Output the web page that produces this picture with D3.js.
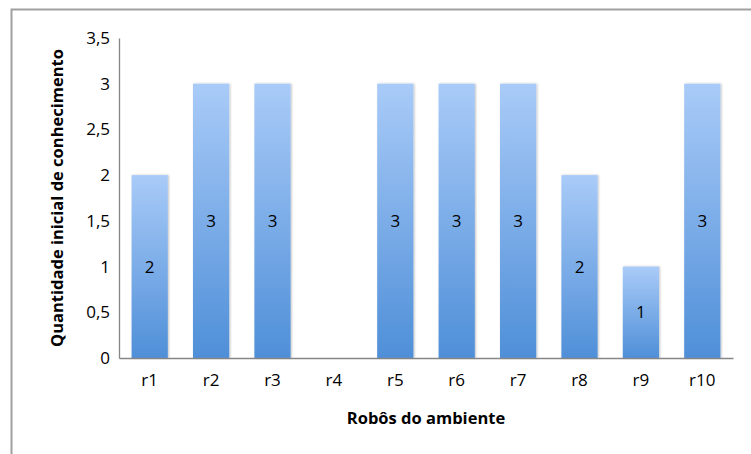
<!DOCTYPE html>
<meta charset="utf-8">
<style>
    body { margin: 0; background: #fff; }
    text { font-family: "Open Sans", "Liberation Sans", sans-serif; fill: #000; }
    .tick text { font-size: 17px; }
    .axis-title { font-size: 16.5px; font-weight: bold; }
    .bar-label { font-size: 17px; }
</style>
<svg width="751" height="454"></svg>
<script src="https://cdn.jsdelivr.net/npm/d3@7"></script>
<script>

    var robots = ["r1", "r2", "r3", "r4", "r5", "r6", "r7", "r8", "r9", "r10"];
    var knowledge = [2, 3, 3, 0, 3, 3, 3, 2, 1, 3];
    var yTicks = [0, 0.5, 1, 1.5, 2, 2.5, 3, 3.5];

    var svg = d3.select("svg");

    // frame of the chart area (only top/left visible in the crop)
    svg.append("rect")
        .attr("x", 11.5).attr("y", 9.5)
        .attr("width", 800).attr("height", 500)
        .attr("fill", "none")
        .attr("stroke", "#a0a0a0")
        .attr("stroke-width", 2);

    var plotLeft = 119, plotRight = 733, plotTop = 38, plotBottom = 358;

    var x = d3.scaleBand().domain(robots).range([plotLeft, plotRight]).paddingInner(0.41).paddingOuter(0.205);
    var y = d3.scaleLinear().domain([0, 3.5]).range([plotBottom, plotTop]);

    var defs = svg.append("defs");
    var grad = defs.append("linearGradient")
        .attr("id", "barGrad")
        .attr("x1", 0).attr("y1", 0).attr("x2", 0).attr("y2", 1);
    grad.append("stop").attr("offset", "0%").attr("stop-color", "#a9cbf8");
    grad.append("stop").attr("offset", "100%").attr("stop-color", "#4f8fd8");

    var shadow = defs.append("filter").attr("id", "shadow")
        .attr("x", "-20%").attr("y", "-5%").attr("width", "140%").attr("height", "110%");
    shadow.append("feDropShadow")
        .attr("dx", 1).attr("dy", 0).attr("stdDeviation", 1.2)
        .attr("flood-color", "#000").attr("flood-opacity", 0.25);

    var fmt = function(d) { return String(d).replace(".", ","); };

    // axes
    var yAxis = svg.append("g")
        .attr("transform", "translate(" + plotLeft + ",0)")
        .call(d3.axisLeft(y).tickValues(yTicks).tickFormat(fmt).tickSize(0).tickPadding(9));
    yAxis.select(".domain").attr("stroke", "#868686").attr("stroke-width", 1.3);

    var bars = svg.append("g");
    bars.selectAll("rect")
        .data(knowledge)
        .join("rect")
        .attr("x", function(d, i) { return x(robots[i]); })
        .attr("y", function(d) { return y(d); })
        .attr("width", x.bandwidth())
        .attr("height", function(d) { return y(0) - y(d); })
        .attr("fill", "url(#barGrad)")
        .attr("filter", "url(#shadow)")
        .style("display", function(d) { return d > 0 ? null : "none"; });

    bars.selectAll("text")
        .data(knowledge)
        .join("text")
        .attr("class", "bar-label")
        .attr("x", function(d, i) { return x(robots[i]) + x.bandwidth() / 2; })
        .attr("y", function(d) { return (y(d) + y(0)) / 2; })
        .attr("dy", "0.35em")
        .attr("text-anchor", "middle")
        .text(function(d) { return d > 0 ? d : ""; });

    var xAxis = svg.append("g")
        .attr("transform", "translate(0," + plotBottom + ")")
        .call(d3.axisBottom(x).tickSize(0).tickPadding(16));
    xAxis.select(".domain").attr("stroke", "#868686").attr("stroke-width", 1.3);

    svg.selectAll(".tick text").style("font-family", "'Open Sans', sans-serif");

    svg.append("text")
        .attr("class", "axis-title")
        .attr("x", (plotLeft + plotRight) / 2)
        .attr("y", 424)
        .attr("text-anchor", "middle")
        .text("Robôs do ambiente");

    svg.append("text")
        .attr("class", "axis-title")
        .attr("transform", "translate(63," + ((plotTop + plotBottom) / 2) + ") rotate(-90)")
        .attr("text-anchor", "middle")
        .text("Quantidade inicial de conhecimento");

</script>
